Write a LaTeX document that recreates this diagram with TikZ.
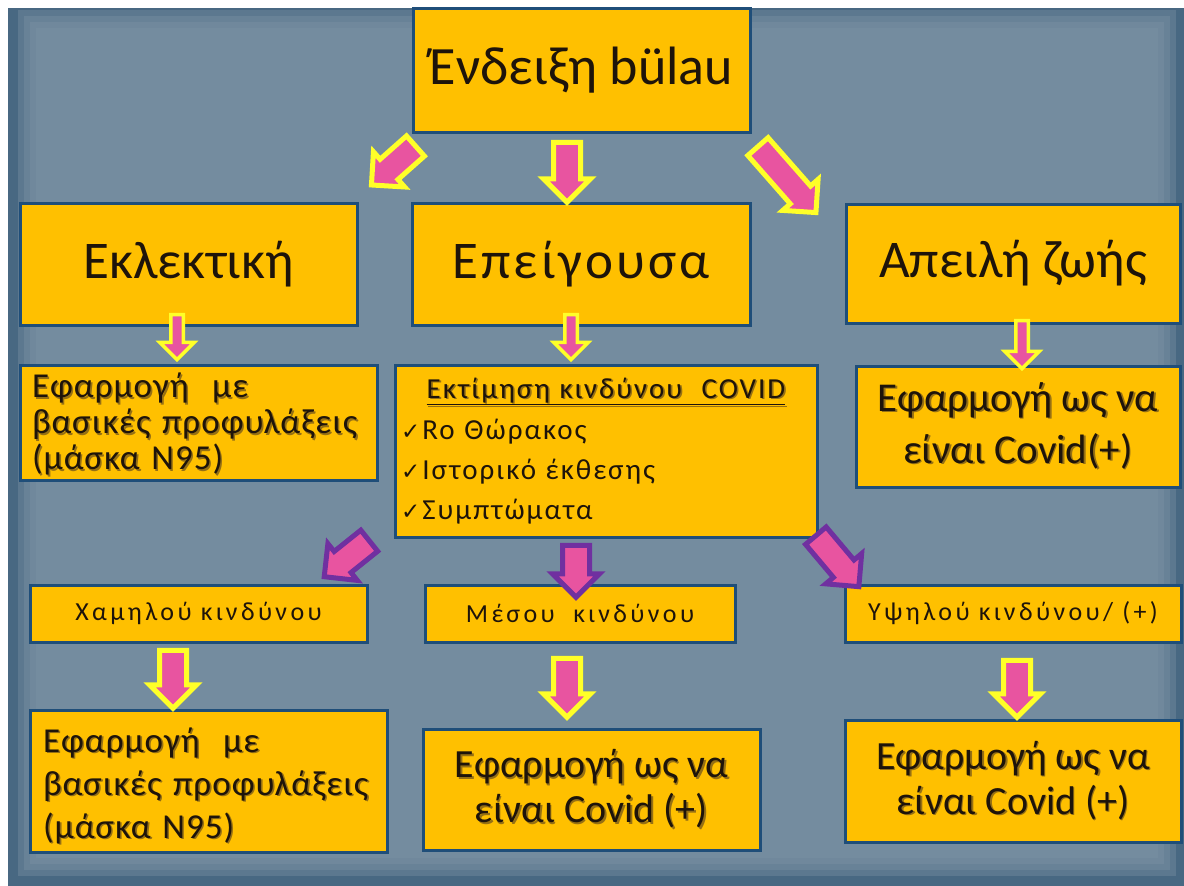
\documentclass[tikz,border=0pt]{standalone}
\usepackage{fontspec}
\setmainfont{Carlito}
\newfontfamily\symfont{DejaVu Sans}
\newfontfamily\widefont[LetterSpace=13]{Carlito}
\newfontfamily\midfont[LetterSpace=7]{Carlito}
\newfontfamily\bigfont[LetterSpace=6]{Carlito}
\newfontfamily\boxfont[LetterSpace=3]{Carlito}
\usetikzlibrary{calc,shapes.arrows}

\definecolor{bgdark}{RGB}{72,104,130}
\definecolor{bgmain}{RGB}{124,146,164}
\definecolor{gold}{RGB}{255,192,0}
\definecolor{boxblue}{RGB}{31,78,121}
\definecolor{arrpink}{RGB}{232,84,160}
\definecolor{arryellow}{RGB}{255,255,40}
\definecolor{arrpurple}{RGB}{112,48,160}
\definecolor{txt}{RGB}{30,20,10}
\definecolor{shadowc}{RGB}{150,112,20}

\newcommand\shd[1]{\leavevmode\rlap{\kern1.6pt\raisebox{-1.6pt}{\color{shadowc}#1}}#1}
\newcommand\chk{{\symfont\fontsize{23}{23}\selectfont ✓}\kern2pt}

\tikzset{
  box/.style={draw=boxblue, line width=3pt, fill=gold, text=txt, inner sep=0pt},
  bigarr/.style={single arrow, fill=arrpink, line width=5pt, inner xsep=0pt,
    inner ysep=11pt, single arrow head extend=10pt, minimum width=1pt},
  smallarr/.style={single arrow, fill=arrpink, line width=3.5pt, inner xsep=0pt,
    inner ysep=4.5pt, single arrow head extend=11pt, minimum width=1pt},
}

% block arrow: tail, tip, style, outline colour
\newcommand\fatarrow[4]{%
  \path let \p1=($(#2)-(#1)$), \n1={atan2(\y1,\x1)}, \n2={veclen(\x1,\y1)} in
    node[#3, draw=#4, minimum height=\n2, rotate=\n1] at ($(#1)!0.5!(#2)$) {};}

\begin{document}
\begin{tikzpicture}[x=1pt, y=-1pt]
\useasboundingbox (0,0) rectangle (1184,886);
	%background
	\fill[white] (0,0) rectangle (1184,886);
	\fill[bgdark] (8,8) rectangle (1184,886);
	\foreach \d in {14,20,26,32} \fill[bgmain, opacity=0.4] (\d+4,\d-4) rectangle (1190-\d,890-\d);

	%top
	\node[box, minimum width=337, minimum height=124, font=\fontsize{54}{60}\selectfont] (ind) at (581.5,70) {Ένδειξη bülau};

	%second row
	\node[box, minimum width=337, minimum height=122, font=\fontsize{53}{60}\selectfont] (ekl) at (188.5,264) {Εκλεκτική};
	\node[box, minimum width=338, minimum height=122, font=\fontsize{53}{60}\selectfont\bigfont] (epe) at (581,264) {Επείγουσα};
	\node[box, minimum width=334, minimum height=119, font=\fontsize{53}{60}\selectfont] (apz) at (1013,263.5) {Απειλή ζωής};

	%third row
	\node[box, minimum width=357, minimum height=115, align=left, text width=333,
	  font=\fontsize{35}{36}\selectfont\boxfont] (efb1) at (198.5,422.5)
	  {\rule{0pt}{30pt}\shd{Εφαρμογή\ \ με}\\ \shd{βασικές προφυλάξεις}\\ \shd{(μάσκα N95)}};
	\node[box, minimum width=422, minimum height=172, align=left, text width=410,
	  font=\fontsize{29}{40}\selectfont\midfont] (cov) at (606,451)
	  {\hbox to 410pt{\hfil\shd{\underline{Εκτίμηση κινδύνου\ \ COVID}}\hfil}\\[1pt]
	   \chk Ro Θώρακος\\ \chk Ιστορικό έκθεσης\\ \chk Συμπτώματα};
	\node[box, minimum width=324, minimum height=121, align=center,
	  font=\fontsize{41}{52}\selectfont] (efc1) at (1018,426.5)
	  {\shd{Εφαρμογή ως να}\\ \shd{είναι Covid(+)}};

	%risk levels
	\node[box, minimum width=337, minimum height=57, font=\fontsize{26}{28}\selectfont\widefont] (low) at (198.5,613.5) {Χαμηλού κινδύνου};
	\node[box, minimum width=310, minimum height=57, font=\fontsize{26}{28}\selectfont\widefont] (mid) at (580,613.5) {Μέσου\ \ κινδύνου};
	\node[box, minimum width=336, minimum height=57, font=\fontsize{26}{28}\selectfont\widefont] (high) at (1013,613.5) {Υψηλού κινδύνου/ (+)};

	%bottom row
	\node[box, minimum width=357, minimum height=142, align=left, text width=331,
	  font=\fontsize{35}{43}\selectfont\boxfont] (efb2) at (208.5,781)
	  {\rule{0pt}{36pt}\shd{Εφαρμογή\ \ με}\\ \shd{βασικές προφυλάξεις}\\ \shd{(μάσκα N95)}};
	\node[box, minimum width=337, minimum height=121, align=center,
	  font=\fontsize{40}{45}\selectfont] (efc2) at (591.5,789.5)
	  {\shd{Εφαρμογή ως να}\\ \shd{είναι Covid (+)}};
	\node[box, minimum width=336, minimum height=122, align=center,
	  font=\fontsize{40}{45}\selectfont] (efc3) at (1013,781)
	  {\shd{Εφαρμογή ως να}\\ \shd{είναι Covid (+)}};

	%arrow ends
	\coordinate (a1) at ($(ind.south west)+(9,8)$);   \coordinate (b1) at ($(ekl.north east)+(18,-21)$);
	\coordinate (a2) at ($(ind.south)+(-14.5,2)$);    \coordinate (b2) at ($(epe.north)+(-14,-6)$);
	\coordinate (a3) at ($(ind.south east)+(2,8)$);   \coordinate (b3) at ($(apz.north west)+(-33,5)$);
	\coordinate (a4) at ($(ekl.south)+(-11.5,-15)$);  \coordinate (b4) at ($(efb1.north)+(-21.5,-7)$);
	\coordinate (a5) at ($(epe.south)+(-10,-15)$);    \coordinate (b5) at ($(cov.north)+(-35,-7)$);
	\coordinate (a6) at ($(apz.south)+(9,-7)$);       \coordinate (b6) at ($(efc1.north)+(4,1)$);
	\coordinate (a7) at ($(cov.south west)+(-19,-2)$); \coordinate (b7) at ($(low.north east)+(-39,-11)$);
	\coordinate (a8) at ($(cov.south)+(-30,0)$);      \coordinate (b8) at ($(mid.north)+(-4,7)$);
	\coordinate (a9) at ($(cov.south east)+(-7,-8)$); \coordinate (b9) at ($(high.north west)+(11,-2)$);
	\coordinate (a10) at ($(low.south)+(-25.5,0)$);   \coordinate (b10) at ($(efb2.north)+(-35.5,-7)$);
	\coordinate (a11) at ($(mid.south)+(-13,8)$);     \coordinate (b11) at ($(efc2.north)+(-24.5,-17)$);
	\coordinate (a12) at ($(high.south)+(4,10)$);     \coordinate (b12) at ($(efc3.north)+(4,-8)$);

	%arrows
	\foreach \s/\t in {a1/b1, a2/b2, a3/b3, a10/b10, a11/b11, a12/b12} \fatarrow{\s}{\t}{bigarr}{arryellow};
	\foreach \s/\t in {a4/b4, a5/b5, a6/b6} \fatarrow{\s}{\t}{smallarr}{arryellow};
	\foreach \s/\t in {a7/b7, a8/b8, a9/b9} \fatarrow{\s}{\t}{bigarr}{arrpurple};
\end{tikzpicture}
\end{document}
